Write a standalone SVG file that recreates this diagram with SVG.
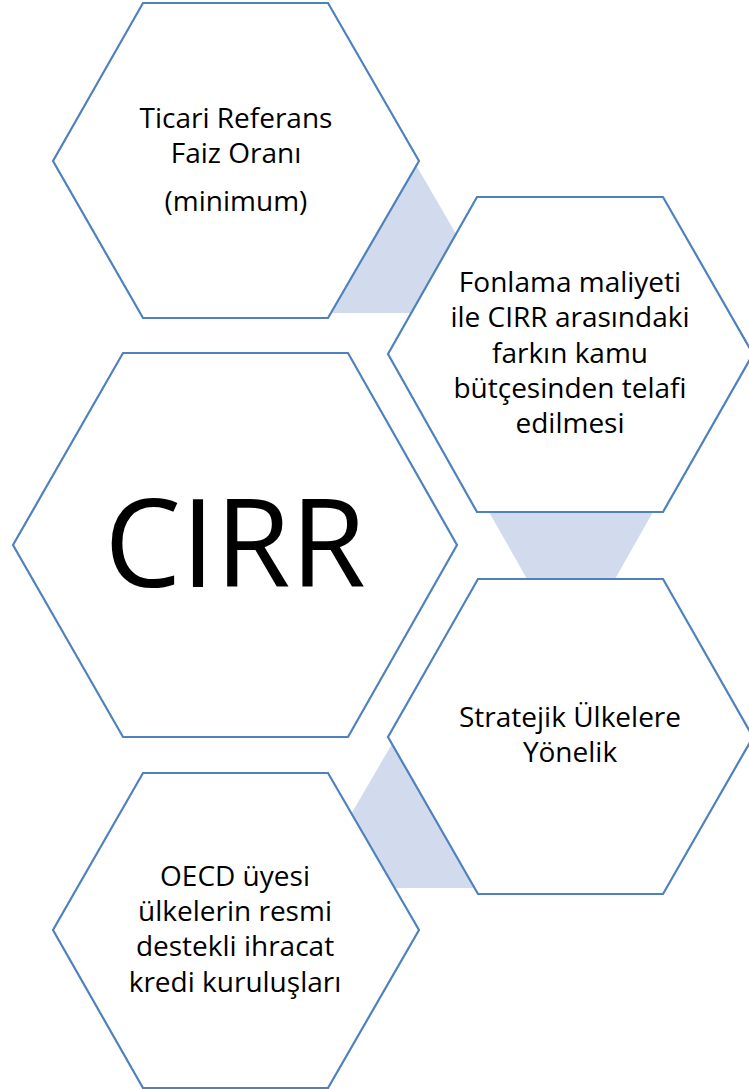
<svg xmlns="http://www.w3.org/2000/svg" width="749" height="1089" viewBox="0 0 749 1089">
<style>
.hex{fill:#ffffff;stroke:#4f81bd;stroke-width:2.2;stroke-linejoin:miter}
.link{fill:#d1dbed;stroke:none}
.t{font-family:"Open Sans","Noto Sans","Liberation Sans",sans-serif;font-size:28px;fill:#000;text-anchor:middle}
.big{font-family:"Open Sans","Noto Sans","Liberation Sans",sans-serif;font-size:122px;fill:#000;text-anchor:middle}
</style>
<rect width="749" height="1089" fill="#ffffff"/>
<g id="connectors">
<polygon class="link" points="416,165 470,258 470,313 320,313"/>
<polygon class="link" points="489,512 653,512 615,579 527,579"/>
<polygon class="link" points="396,737 350,816 350,888 480,888 480,737"/>
</g>
<g id="node-ticari">
<polygon class="hex" points="143,3 328,3 419,161 328,318 143,318 53,161"/>
<text class="t" x="236" y="128">Ticari Referans</text>
<text class="t" x="236" y="163">Faiz Oranı</text>
<text class="t" x="236" y="211">(minimum)</text>
</g>
<g id="node-fonlama">
<polygon class="hex" points="477,197 663,197 753,354 663,512 477,512 388,354"/>
<text class="t" x="570" y="292">Fonlama maliyeti</text>
<text class="t" x="570" y="327">ile CIRR arasındaki</text>
<text class="t" x="570" y="363">farkın kamu</text>
<text class="t" x="570" y="398">bütçesinden telafi</text>
<text class="t" x="570" y="433">edilmesi</text>
</g>
<g id="node-cirr">
<polygon class="hex" points="123,353 348,353 457,545 348,737 123,737 13,545"/>
<text class="big" x="235" y="587">CIRR</text>
</g>
<g id="node-stratejik">
<polygon class="hex" points="478,579 663,579 753,737 663,894 478,894 388,737"/>
<text class="t" x="570" y="727">Stratejik Ülkelere</text>
<text class="t" x="570" y="762">Yönelik</text>
</g>
<g id="node-oecd">
<polygon class="hex" points="143,773 328,773 419,930 328,1088 143,1088 53,930"/>
<text class="t" x="235" y="886">OECD üyesi</text>
<text class="t" x="235" y="921">ülkelerin resmi</text>
<text class="t" x="235" y="956">destekli ihracat</text>
<text class="t" x="235" y="992">kredi kuruluşları</text>
</g>
</svg>
